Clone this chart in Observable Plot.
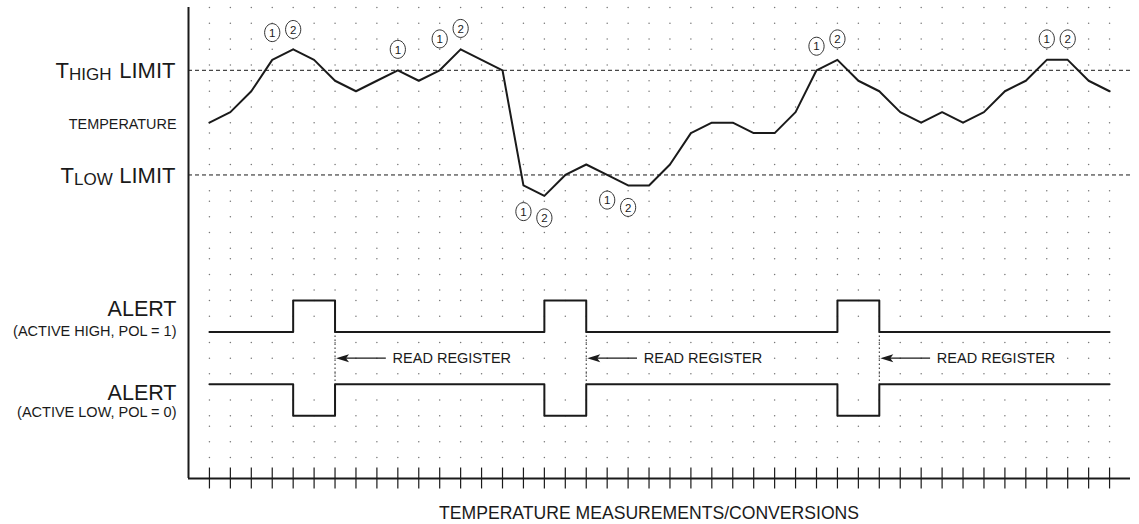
<!DOCTYPE html>
<html>
<head>
<meta charset="utf-8">
<script src="https://cdn.jsdelivr.net/npm/d3@7"></script>
<script src="https://cdn.jsdelivr.net/npm/@observablehq/plot@0.6"></script>
<style>
  html, body { margin: 0; padding: 0; background: #fff; }
  #chart svg { display: block; font-family: "Liberation Sans", Arial, sans-serif; }
</style>
</head>
<body>
<div id="chart"></div>
<script>
// ---- data ----
// temperature reading at each conversion (arbitrary units; T_HIGH = 13, T_LOW = 3)
const temperature = [8, 9, 11, 14, 15, 14, 12, 11, 12, 13, 12, 13, 15, 14, 13, 2, 1, 3, 4, 3, 2, 2, 4, 7, 8, 8, 7, 7, 9, 13, 14, 12, 11, 9, 8, 9, 8, 9, 11, 12, 14, 14, 12, 11];
const tHigh = 13;
const tLow = 3;
// alert pulses: start / end conversion index
const alertStart = [4, 16, 30];
const alertEnd = [6, 18, 32];
// signal levels for the two ALERT traces
const alertHighLevels = {idle: -12, active: -9};
const alertLowLevels = {idle: -17, active: -20};
const readRegisterLevel = -14.5;
// circled markers: conversion index, level, label
const markerIndex = [3, 4, 9, 11, 12, 15, 16, 19, 20, 29, 30, 40, 41];
const markerLevel = [16.6, 16.9, 15, 16, 17, -0.5, -1.1, 0.6, -0.1, 15.3, 16, 16, 16];
const markerLabel = ["1", "2", "1", "1", "2", "1", "2", "1", "2", "1", "2", "1", "2"];
// dotted grid rows
const gridRows = [19, 17.5, 16, 15, 13.5, 12, 11, 9.5, 8, 7, 5.5, 4, 1.5, 0.5, -1, -2.5, -4, -5, -6.5, -8, -9, -10.5, -13, -14.5, -16, -18.5, -20, -21, -22.5, -24];
const axisBottom = -26;
const axisTop = 19;
const xLabel = "TEMPERATURE MEASUREMENTS/CONVERSIONS";

// ---- derived tables ----
const idx = d3.range(temperature.length);
const tempData = idx.map(i => ({i, v: temperature[i]}));
const isActive = i => alertStart.some((s, k) => i >= s && i < alertEnd[k]);
const alertHigh = idx.map(i => ({i, v: isActive(i) ? alertHighLevels.active : alertHighLevels.idle}));
const alertLow = idx.map(i => ({i, v: isActive(i) ? alertLowLevels.active : alertLowLevels.idle}));
const grid = gridRows.flatMap(r => idx.map(i => ({i, r})));
const markers = markerIndex.map((m, k) => ({i: m, v: markerLevel[k], label: markerLabel[k]}));
const reads = alertEnd.map(e => ({i: e}));

const ellipse = {
  draw(ctx) {
    const rx = 7.6, ry = 9, kx = rx * 0.5523, ky = ry * 0.5523;
    ctx.moveTo(rx, 0);
    ctx.bezierCurveTo(rx, ky, kx, ry, 0, ry);
    ctx.bezierCurveTo(-kx, ry, -rx, ky, -rx, 0);
    ctx.bezierCurveTo(-rx, -ky, -kx, -ry, 0, -ry);
    ctx.bezierCurveTo(kx, -ry, rx, -ky, rx, 0);
    ctx.closePath();
  }
};
const arrowLeft = {
  draw(ctx) {
    ctx.moveTo(0, 0);
    ctx.lineTo(13, -4);
    ctx.lineTo(10, 0);
    ctx.lineTo(13, 4);
    ctx.closePath();
  }
};

const ink = "#1a1a1a";
const plot = Plot.plot({
  width: 1139,
  height: 524,
  marginLeft: 188,
  marginRight: 9,
  marginTop: 7,
  marginBottom: 46,
  x: {domain: [-1, 44], axis: null},
  y: {domain: [axisBottom, axisTop], axis: null},
  style: {background: "#fff", color: ink, fontFamily: "Liberation Sans, Arial, sans-serif"},
  marks: [
    // dotted grid
    Plot.dot(grid, {x: "i", y: "r", r: 0.75, fill: "#777", stroke: null}),
    // limit lines
    Plot.ruleY([tHigh, tLow], {x1: -1, x2: 44, stroke: ink, strokeWidth: 1, strokeDasharray: "4,3"}),
    // read register dotted verticals
    Plot.ruleX(reads, {x: "i", y1: alertHighLevels.idle, y2: alertLowLevels.idle, stroke: ink, strokeWidth: 1, strokeDasharray: "1.5,2.5"}),
    // arrows
    Plot.ruleY(reads, {x1: d => d.i + 0.4, x2: d => d.i + 2.45, y: readRegisterLevel, stroke: ink, strokeWidth: 1.4}),
    Plot.dot(reads, {x: "i", y: readRegisterLevel, symbol: arrowLeft, fill: ink, stroke: null, dx: 1}),
    Plot.text(reads, {x: d => d.i + 2.75, y: readRegisterLevel, text: () => "READ REGISTER", textAnchor: "start", fontSize: 14.5, fill: ink}),
    // temperature trace
    Plot.line(tempData, {x: "i", y: "v", stroke: ink, strokeWidth: 2}),
    // alert traces
    Plot.line(alertHigh, {x: "i", y: "v", curve: "step-after", stroke: ink, strokeWidth: 2}),
    Plot.line(alertLow, {x: "i", y: "v", curve: "step-after", stroke: ink, strokeWidth: 2}),
    // circled markers
    Plot.dot(markers, {x: "i", y: "v", symbol: ellipse, fill: "#fff", stroke: ink, strokeWidth: 0.9}),
    Plot.text(markers, {x: "i", y: "v", text: "label", fontSize: 11.5, fill: ink, dy: 0.5}),
    // axes
    Plot.ruleX([-1], {y1: axisBottom, y2: axisTop, stroke: ink, strokeWidth: 2}),
    Plot.ruleY([axisBottom], {x1: -1, x2: 44, stroke: ink, strokeWidth: 2}),
    Plot.ruleX(idx, {y1: axisBottom + 1, y2: axisBottom - 1, stroke: ink, strokeWidth: 1.2}),
    // left labels
    Plot.text([tHigh], {y: d => d, frameAnchor: "left", text: () => "T", textAnchor: "start", lineAnchor: "bottom", dx: -133, dy: 7.3, fontSize: 22, fill: ink}),
    Plot.text([tHigh], {y: d => d, frameAnchor: "left", text: () => "HIGH", textAnchor: "start", lineAnchor: "bottom", dx: -119.5, dy: 10, fontSize: 17, fill: ink}),
    Plot.text([tHigh], {y: d => d, frameAnchor: "left", text: () => "LIMIT", textAnchor: "end", lineAnchor: "bottom", dx: -13, dy: 7.3, fontSize: 22, fill: ink}),
    Plot.text([temperature[0]], {y: d => d, frameAnchor: "left", text: () => "TEMPERATURE", textAnchor: "end", lineAnchor: "bottom", dx: -12, dy: 6, fontSize: 14.4, fill: ink}),
    Plot.text([tLow], {y: d => d, frameAnchor: "left", text: () => "T", textAnchor: "start", lineAnchor: "bottom", dx: -128, dy: 8.1, fontSize: 22, fill: ink}),
    Plot.text([tLow], {y: d => d, frameAnchor: "left", text: () => "LOW", textAnchor: "start", lineAnchor: "bottom", dx: -114.5, dy: 10.4, fontSize: 17, fill: ink}),
    Plot.text([tLow], {y: d => d, frameAnchor: "left", text: () => "LIMIT", textAnchor: "end", lineAnchor: "bottom", dx: -13, dy: 8.1, fontSize: 22, fill: ink}),
    Plot.text([alertHighLevels.idle], {y: d => d, frameAnchor: "left", text: () => "ALERT", textAnchor: "end", lineAnchor: "bottom", dx: -12, dy: -15.5, fontSize: 21.5, fill: ink}),
    Plot.text([alertHighLevels.idle], {y: d => d, frameAnchor: "left", text: () => "(ACTIVE HIGH, POL = 1)", textAnchor: "end", lineAnchor: "bottom", dx: -12, dy: 4.5, fontSize: 14.5, fill: ink}),
    Plot.text([alertLowLevels.idle], {y: d => d, frameAnchor: "left", text: () => "ALERT", textAnchor: "end", lineAnchor: "bottom", dx: -12, dy: 15.5, fontSize: 21.5, fill: ink}),
    Plot.text([alertLowLevels.active], {y: d => d, frameAnchor: "left", text: () => "(ACTIVE LOW, POL = 0)", textAnchor: "end", lineAnchor: "bottom", dx: -12, dy: 0.8, fontSize: 14.5, fill: ink}),
    // x label
    Plot.text([21], {x: d => d, y: axisBottom, text: () => xLabel, textAnchor: "middle", lineAnchor: "bottom", dy: 40.3, fontSize: 17.6, fill: ink})
  ]
});
document.getElementById("chart").appendChild(plot);
</script>
</body>
</html>
